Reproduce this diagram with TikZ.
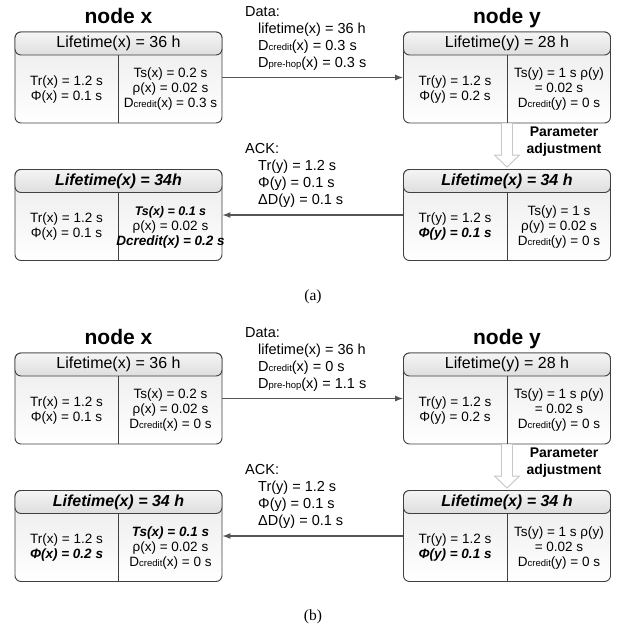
\documentclass[tikz,border=0pt]{standalone}
\usepackage{fontspec}
\setmainfont{Liberation Sans}
\newfontfamily\capfont{Liberation Serif}
\usetikzlibrary{arrows.meta, calc, positioning}

\definecolor{boxgray}{HTML}{404040}
\definecolor{linkgray}{HTML}{555555}

\newcommand{\Dsm}[1]{D{\fontsize{9.5}{10}\selectfont #1}}
\newcommand{\bi}[1]{\textbf{\textit{#1}}}
% name, centre, header, left column, right column
\newcommand{\nodebox}[5]{%
	\node[box] (#1) at (#2) {};
	\node[boxhead] (#1h) at (#1.north) {#3};
	\draw[boxline] (#1h.south) -- (#1.south);
	\node[boxtxt] (#1l) at ($(#1h.south west)!0.5!(#1.south)$) {#4};
	\node[boxtxt] (#1r) at ($(#1h.south east)!0.5!(#1.south)$) {#5};
}

\begin{document}
\begin{tikzpicture}[x=1pt, y=-1pt,
	box/.style={draw=boxgray, line width=0.9pt, rounded corners=6pt, minimum width=207pt, minimum height=91pt, inner sep=0pt, top color=gray!16, bottom color=white},
	boxhead/.style={draw=boxgray, line width=0.9pt, rounded corners=6pt, minimum width=207pt, minimum height=23pt, inner sep=0pt, anchor=north, top color=gray!8, bottom color=gray!26, font=\fontsize{16}{18}\selectfont},
	boxline/.style={draw=boxgray, line width=0.9pt},
	boxtxt/.style={align=center, inner sep=0pt, font=\fontsize{13.5}{15}\selectfont},
	link/.style={draw=linkgray, line width=1.1pt, -{Latex[length=8pt,width=6pt]}},
	title/.style={font=\fontsize{21}{24}\selectfont\bfseries, anchor=base},
	msg/.style={align=left, inner sep=0pt, anchor=north west, font=\fontsize{14.5}{17}\selectfont},
	adjarrow/.style={draw=gray!45, fill=white, line width=0.9pt},
	adjtxt/.style={align=center, inner sep=0pt, font=\fontsize{14}{17}\selectfont\bfseries},
	caption/.style={font=\capfont\fontsize{15.5}{18}\selectfont}]
	\useasboundingbox (0,0) rectangle (627,630);
	
	%%% (a)
	\node[title] (titxa) at (118.5,23) {node x};
	\node[title] (titya) at (507,23) {node y};
	
	\nodebox{xa1}{118.5,77.5}{Lifetime(x) = 36 h}
		{Tr(x) = 1.2 s\\Φ(x) = 0.1 s}
		{Ts(x) = 0.2 s\\ρ(x) = 0.02 s\\\Dsm{credit}(x) = 0.3 s}
	\nodebox{ya1}{507,77.5}{Lifetime(y) = 28 h}
		{Tr(y) = 1.2 s\\Φ(y) = 0.2 s}
		{Ts(y) = 1 s ρ(y)\\= 0.02 s\\\Dsm{credit}(y) = 0 s}
	\nodebox{ya2}{507,215}{\bi{Lifetime(x) = 34 h}}
		{Tr(y) = 1.2 s\\\bi{Φ(y) = 0.1 s}}
		{Ts(y) = 1 s\\ρ(y) = 0.02 s\\\Dsm{credit}(y) = 0 s}
	\nodebox{xa2}{118.5,215}{\bi{Lifetime(x) = 34h}}
		{Tr(x) = 1.2 s\\Φ(x) = 0.1 s}
		{\fontsize{12.5}{15}\selectfont\bi{Ts(x) = 0.1 s}\\ρ(x) = 0.02 s\\\bi{Dcredit(x) = 0.2 s}}
	
	% messages
	\node[msg] (dataa) at (245,6.5) {Data:\\\hspace*{13pt}lifetime(x) = 36 h\\\hspace*{13pt}\Dsm{credit}(x) = 0.3 s\\\hspace*{13pt}\Dsm{pre-hop}(x) = 0.3 s};
	\node[msg] (acka) at (245,143) {ACK:\\\hspace*{13pt}Tr(y) = 1.2 s\\\hspace*{13pt}Φ(y) = 0.1 s\\\hspace*{13pt}ΔD(y) = 0.1 s};
	\draw[link] (xa1.east) -- (ya1.west);
	\draw[link] (ya2.west) -- (xa2.east);
	
	% parameter adjustment
	\draw[adjarrow] ($(ya1.south)+(-5.5,0)$) -- ($(ya2.north)+(-5.5,-14)$) -- ($(ya2.north)+(-12.5,-14)$) -- ($(ya2.north)+(0,-2)$) -- ($(ya2.north)+(12.5,-14)$) -- ($(ya2.north)+(5.5,-14)$) -- ($(ya1.south)+(5.5,0)$);
	\node[adjtxt] (adja) at (564,142) {Parameter\\adjustment};
	
	\node[caption] (capa) at (313,297) {(a)};
	
	%%% (b)
	\node[title] (titxb) at (118.5,344) {node x};
	\node[title] (tityb) at (507,344) {node y};
	
	\nodebox{xb1}{118.5,398.5}{Lifetime(x) = 36 h}
		{Tr(x) = 1.2 s\\Φ(x) = 0.1 s}
		{Ts(x) = 0.2 s\\ρ(x) = 0.02 s\\\Dsm{credit}(x) = 0 s}
	\nodebox{yb1}{507,398.5}{Lifetime(y) = 28 h}
		{Tr(y) = 1.2 s\\Φ(y) = 0.2 s}
		{Ts(y) = 1 s ρ(y)\\= 0.02 s\\\Dsm{credit}(y) = 0 s}
	\nodebox{yb2}{507,536}{\bi{Lifetime(x) = 34 h}}
		{Tr(y) = 1.2 s\\\bi{Φ(y) = 0.1 s}}
		{Ts(y) = 1 s ρ(y)\\= 0.02 s\\\Dsm{credit}(y) = 0 s}
	\nodebox{xb2}{118.5,536}{\bi{Lifetime(x) = 34 h}}
		{Tr(x) = 1.2 s\\\bi{Φ(x) = 0.2 s}}
		{\bi{Ts(x) = 0.1 s}\\ρ(x) = 0.02 s\\\Dsm{credit}(x) = 0 s}
	
	% messages
	\node[msg] (datab) at (245,327.5) {Data:\\\hspace*{13pt}lifetime(x) = 36 h\\\hspace*{13pt}\Dsm{credit}(x) = 0 s\\\hspace*{13pt}\Dsm{pre-hop}(x) = 1.1 s};
	\node[msg] (ackb) at (245,464) {ACK:\\\hspace*{13pt}Tr(y) = 1.2 s\\\hspace*{13pt}Φ(y) = 0.1 s\\\hspace*{13pt}ΔD(y) = 0.1 s};
	\draw[link] (xb1.east) -- (yb1.west);
	\draw[link] (yb2.west) -- (xb2.east);
	
	% parameter adjustment
	\draw[adjarrow] ($(yb1.south)+(-5.5,0)$) -- ($(yb2.north)+(-5.5,-14)$) -- ($(yb2.north)+(-12.5,-14)$) -- ($(yb2.north)+(0,-2)$) -- ($(yb2.north)+(12.5,-14)$) -- ($(yb2.north)+(5.5,-14)$) -- ($(yb1.south)+(5.5,0)$);
	\node[adjtxt] (adjb) at (564,463) {Parameter\\adjustment};
	
	\node[caption] (capb) at (313,617) {(b)};
\end{tikzpicture}
\end{document}
